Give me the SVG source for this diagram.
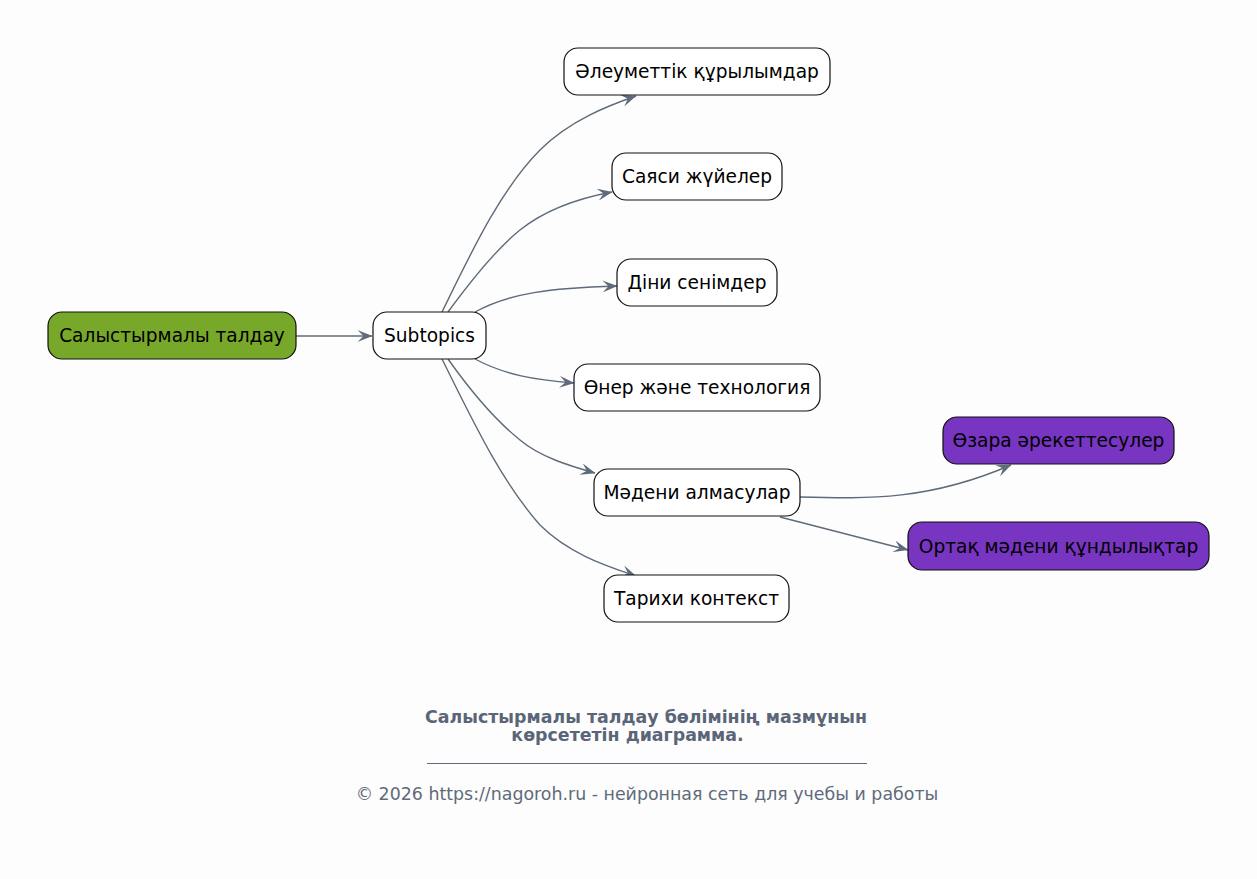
<svg xmlns="http://www.w3.org/2000/svg" width="1257" height="879" viewBox="0 0 1257 879">
<style>
.n rect{stroke:#111;stroke-width:1.2}
.w rect{fill:#ffffff}
.n text{font-family:"DejaVu Sans",sans-serif;font-size:18.6px;fill:#000;text-anchor:middle}
.e path{fill:none;stroke:#5f6b7a;stroke-width:1.4;marker-end:url(#a)}
.cap{font-family:"DejaVu Sans",sans-serif;font-size:17.4px;font-weight:bold;fill:#5a6678}
.foot{font-family:"DejaVu Sans",sans-serif;font-size:17.4px;fill:#5f6b7a;text-anchor:middle}
</style>
<defs>
<marker id="a" viewBox="0 0 15 12" refX="14.5" refY="6" markerWidth="15" markerHeight="12" markerUnits="userSpaceOnUse" orient="auto">
<path d="M0,0 L15,6 L0,12 L6,6 Z" fill="#5f6b7a"/>
</marker>
</defs>
<rect width="1257" height="879" fill="#fdfdfd"/>
<g class="e" id="connectors">
<path d="M296,336 L372,336"/>
<path d="M442,312 C470,255 500,190 540,150 C570,120 610,105 636,96"/>
<path d="M448,312 C470,282 495,250 520,230 C545,210 580,198 612,192"/>
<path d="M475,312 C510,293 550,288 617,286"/>
<path d="M475,359 C505,375 535,380 574,383"/>
<path d="M448,359 C470,390 495,420 520,440 C540,457 570,466 595,473"/>
<path d="M442,359 C470,415 500,480 540,525 C570,555 610,567 636,576"/>
<path d="M800,497 C870,499 930,500 1011,465"/>
<path d="M780,517 L908,550"/>
</g>
<g class="n" id="root"><rect x="48" y="312" width="248" height="47" rx="14" fill="#78a82a"/><text x="172" y="342">Салыстырмалы талдау</text></g>
<g class="n w" id="subtopics"><rect x="373" y="312" width="113" height="47" rx="14"/><text x="429.5" y="342">Subtopics</text></g>
<g class="n w" id="n1"><rect x="564" y="48" width="266" height="47" rx="14"/><text x="697" y="78">Әлеуметтік құрылымдар</text></g>
<g class="n w" id="n2"><rect x="612" y="153" width="170" height="47" rx="14"/><text x="697" y="183">Саяси жүйелер</text></g>
<g class="n w" id="n3"><rect x="617" y="259" width="160" height="47" rx="14"/><text x="697" y="289">Діни сенімдер</text></g>
<g class="n w" id="n4"><rect x="574" y="364" width="246" height="47" rx="14"/><text x="697" y="394">Өнер және технология</text></g>
<g class="n w" id="n5"><rect x="594" y="469" width="206" height="47" rx="14"/><text x="697" y="499">Мәдени алмасулар</text></g>
<g class="n w" id="n6"><rect x="604" y="575" width="185" height="47" rx="14"/><text x="696.5" y="605">Тарихи контекст</text></g>
<g class="n" id="n7"><rect x="943" y="417" width="231" height="47" rx="14" fill="#7735c2"/><text x="1058.5" y="447">Өзара әрекеттесулер</text></g>
<g class="n" id="n8"><rect x="908" y="522" width="301" height="48" rx="14" fill="#7735c2"/><text x="1058.5" y="553">Ортақ мәдени құндылықтар</text></g>
<g id="caption">
<text class="cap" x="646" y="723" text-anchor="middle">Салыстырмалы талдау бөлімінің мазмұнын</text>
<text class="cap" x="627.5" y="741" text-anchor="middle">көрсететін диаграмма.</text>
<line x1="427" y1="763.5" x2="867" y2="763.5" stroke="#5f6b7a" stroke-width="1"/>
<text class="foot" x="647" y="800">© 2026 https://nagoroh.ru - нейронная сеть для учебы и работы</text>
</g>
</svg>
